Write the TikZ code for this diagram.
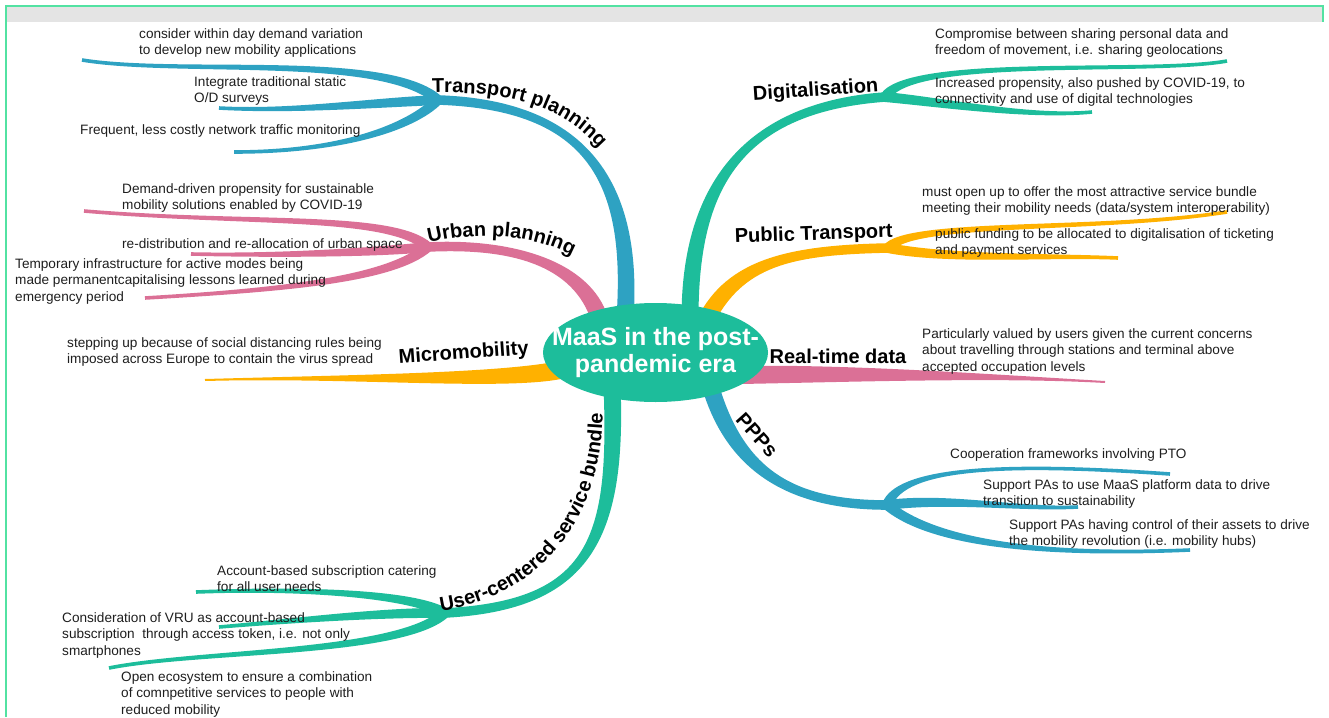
\documentclass[tikz,border=0pt]{standalone}
\usepackage{fontspec}
\setmainfont{Liberation Sans}
\usepackage{tikz}
\usepackage{xcolor}
\usetikzlibrary{calc,shapes.geometric,decorations.text}

\definecolor{mapblue}{RGB}{46,162,194}
\definecolor{mapgreen}{RGB}{29,189,155}
\definecolor{mappink}{RGB}{219,112,150}
\definecolor{maporange}{RGB}{255,177,0}
\definecolor{rimgreen}{RGB}{82,226,162}
\definecolor{bandgray}{RGB}{228,228,228}
\definecolor{ink}{RGB}{30,30,30}

\newcommand{\leaffont}{\fontsize{13.6}{16.5}\selectfont}
\newcommand{\topicfont}{\fontsize{20}{24}\selectfont\bfseries}
\newcommand{\hubfont}{\fontsize{25}{27}\selectfont\bfseries}

\newcommand{\limb}[7]{%
\fill[fill=#1] ($(#4)!#2!90:(#5)$) .. controls ($(#5)!#2!-90:(#4)$) and ($(#6)!#3!90:(#7)$) .. ($(#7)!#3!-90:(#6)$)
  -- ($(#7)!#3!90:(#6)$) .. controls ($(#6)!#3!-90:(#7)$) and ($(#5)!#2!90:(#4)$) .. ($(#4)!#2!-90:(#5)$) -- cycle;}

\tikzstyle{hub} = [ellipse, fill=mapgreen, inner sep=0pt, minimum width=225pt, minimum height=99pt]
\tikzstyle{hubtext} = [text=white, font=\hubfont, align=center, inner sep=0pt]
\tikzstyle{leaf} = [anchor=north west, inner sep=0pt, align=left, font=\leaffont, text=ink]
\tikzstyle{topic} = [anchor=base, inner sep=0pt, font=\topicfont, text=black]

\begin{document}
\begin{tikzpicture}[x=1pt, y=-1pt]
\tikzset{bent/.style={decorate, decoration={text along path, text color=black, text={|\topicfont|#1}}}}
\useasboundingbox (0,0) rectangle (1329,717);
\fill[bandgray] (7,7) rectangle (1322,22);
\draw[rimgreen, line width=2pt] (6,717) -- (6,6) -- (1323,6) -- (1323,22);

\coordinate (tp0) at (625,318);
\coordinate (tp) at (438,100);
\coordinate (tp1) at (82,60);
\coordinate (tp2) at (219,108);
\coordinate (tp3) at (234,152);
\coordinate (up0) at (600,320);
\coordinate (up) at (428,247);
\coordinate (up1) at (84,211);
\coordinate (up2) at (191,254);
\coordinate (up3) at (145,298);
\coordinate (mm0) at (560,370);
\coordinate (mm1) at (205,380);
\coordinate (uc0) at (612,385);
\coordinate (uc) at (445,613);
\coordinate (uc1) at (196,592);
\coordinate (uc2) at (219,627);
\coordinate (uc3) at (109,668);
\coordinate (dg0) at (690,318);
\coordinate (dg) at (885,97);
\coordinate (dg1) at (1227,61);
\coordinate (dg2) at (1092,112);
\coordinate (pt0) at (705,322);
\coordinate (pt) at (888,248);
\coordinate (pt1) at (1227,212);
\coordinate (pt2) at (1118,258);
\coordinate (rt0) at (740,375);
\coordinate (rt1) at (1105,382);
\coordinate (pp0) at (710,385);
\coordinate (pp) at (887,505);
\coordinate (pp1) at (1170,474);
\coordinate (pp2) at (1078,507);
\coordinate (pp3) at (1190,550);

\foreach \col/\from/\ca/\cb/\to in {mapblue/tp0/{634,185}/{590,105}/tp, mappink/up0/{582,262}/{510,243}/up,
  mapgreen/uc0/{618,540}/{590,605}/uc, mapgreen/dg0/{690,195}/{735,108}/dg,
  maporange/pt0/{735,262}/{790,250}/pt, mapblue/pp0/{735,470}/{790,505}/pp}
{
	\limb{\col}{8.5pt}{4.8pt}{\from}{\ca}{\cb}{\to}
}

\foreach \col/\from/\ca/\cb/\to in {mapblue/tp/{385,52}/{180,76}/tp1, mapblue/tp/{370,103}/{290,112}/tp2,
  mapblue/tp/{410,128}/{340,152}/tp3, mappink/up/{390,213}/{250,225}/up1, mappink/up/{380,252}/{280,256}/up2,
  mappink/up/{390,280}/{280,290}/up3, mapgreen/uc/{410,593}/{300,588}/uc1, mapgreen/uc/{380,612}/{280,622}/uc2,
  mapgreen/uc/{400,655}/{200,650}/uc3, mapgreen/dg/{910,55}/{1150,75}/dg1, mapgreen/dg/{940,102}/{1030,118}/dg2,
  maporange/pt/{910,220}/{1100,232}/pt1, maporange/pt/{950,260}/{1050,255}/pt2,
  mapblue/pp/{900,468}/{1000,462}/pp1, mapblue/pp/{950,497}/{1020,510}/pp2, mapblue/pp/{935,545}/{1050,556}/pp3}
{
	\limb{\col}{5pt}{1.8pt}{\from}{\ca}{\cb}{\to}
}

\limb{maporange}{9pt}{1pt}{mm0}{500,382}{350,376}{mm1}
\limb{mappink}{9pt}{1pt}{rt0}{850,373}{1000,376}{rt1}

\node[hub] (maas) at (655.5,352.5) {};
\node[hubtext] (maaslabel) at (maas) {MaaS in the post-\\pandemic era};

\path[bent={Transport planning}] (432,93) .. controls (505,91) and (570,103) .. (612,165);
\path[bent={Urban planning}] (429,243) .. controls (470,233) and (540,228) .. (595,270);
\path[bent={User-centered service bundle}] (441,611) .. controls (540,595) and (612,520) .. (602,380);
\node[topic, rotate=4] (dgt) at (816,96) {Digitalisation};
\node[topic, rotate=4] (mmt) at (464,359) {Micromobility};
\node[topic, rotate=2] (ptt) at (814,240) {Public Transport};
\node[topic] (rtt) at (838,363) {Real-time data};
\node[topic, anchor=center, rotate=-48] (ppt) at (757,435) {PPPs};

\node[leaf] (tpa) at (139,28) {consider within day demand variation\\to develop new mobility applications};
\node[leaf] (tpb) at (194,76) {Integrate traditional static\\O/D surveys};
\node[leaf] (tpc) at (80,124) {Frequent, less costly network traffic monitoring};
\node[leaf] (upa) at (122,183) {Demand-driven propensity for sustainable\\mobility solutions enabled by COVID-19};
\node[leaf] (upb) at (122,238) {re-distribution and re-allocation of urban space};
\node[leaf] (upc) at (15,258) {Temporary infrastructure for active modes being\\made permanentcapitalising lessons learned during\\emergency period};
\node[leaf] (mma) at (67,337) {stepping up because of social distancing rules being\\imposed across Europe to contain the virus spread};
\node[leaf] (uca) at (217,565) {Account-based subscription catering\\for all user needs};
\node[leaf] (ucb) at (62,612) {Consideration of VRU as account-based\\subscription \ through access token, i.e. not only\\smartphones};
\node[leaf] (ucc) at (121,671) {Open ecosystem to ensure a combination\\of comnpetitive services to people with\\reduced mobility};
\node[leaf] (dga) at (935,28) {Compromise between sharing personal data and\\freedom of movement, i.e. sharing geolocations};
\node[leaf] (dgb) at (935,77) {Increased propensity, also pushed by COVID-19, to\\connectivity and use of digital technologies};
\node[leaf] (pta) at (922,186) {must open up to offer the most attractive service bundle\\meeting their mobility needs (data/system interoperability)};
\node[leaf] (ptb) at (935,228) {public funding to be allocated to digitalisation of ticketing\\and payment services};
\node[leaf] (rta) at (922,328) {Particularly valued by users given the current concerns\\about travelling through stations and terminal above\\accepted occupation levels};
\node[leaf] (ppa) at (950,448) {Cooperation frameworks involving PTO};
\node[leaf] (ppb) at (983,479) {Support PAs to use MaaS platform data to drive\\transition to sustainability};
\node[leaf] (ppc) at (1009,519) {Support PAs having control of their assets to drive\\the mobility revolution (i.e. mobility hubs)};
\end{tikzpicture}
\end{document}
